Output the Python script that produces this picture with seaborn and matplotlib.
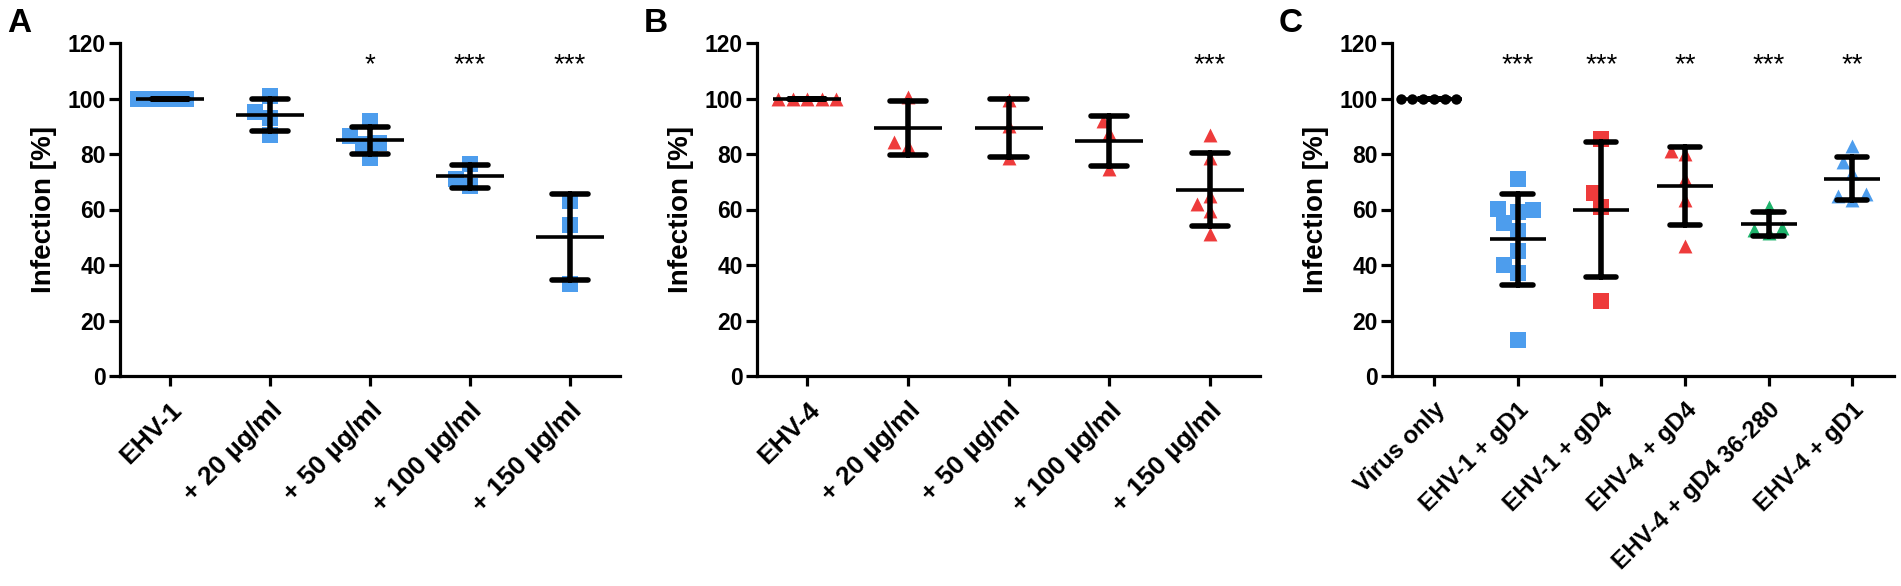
import matplotlib
matplotlib.use("Agg")
import matplotlib.pyplot as plt
import seaborn as sns
import pandas as pd

# ---- data ----
a_groups = ["EHV-1", "+ 20 µg/ml", "+ 50 µg/ml", "+ 100 µg/ml", "+ 150 µg/ml"]
a_values = [
    [100, 100, 100, 100],
    [101, 95, 93, 87],
    [92, 83.5, 86.5, 84, 78.5],
    [76.5, 68.5, 71],
    [63, 54.5, 33],
]
a_stars = ["", "", "*", "***", "***"]

b_groups = ["EHV-4", "+ 20 µg/ml", "+ 50 µg/ml", "+ 100 µg/ml", "+ 150 µg/ml"]
b_values = [
    [100, 100, 100, 100, 100],
    [100.5, 83, 84.5],
    [99.5, 90, 78.5],
    [92, 87.5, 74.5],
    [87, 78.5, 62, 65, 59.5, 51],
]
b_stars = ["", "", "", "", "***"]

c_groups = ["Virus only", "EHV-1 + gD1", "EHV-1 + gD4", "EHV-4 + gD4",
            "EHV-4 + gD4 36-280", "EHV-4 + gD1"]
c_values = [
    [100, 100, 100, 100, 100, 100],
    [71, 59, 60.2, 59.8, 55, 52.2, 45.2, 40.1, 37.1, 13],
    [85.5, 66, 61, 27],
    [81, 80, 71, 63.5, 47],
    [61, 52.5, 51.5, 53.5],
    [83, 77, 73, 65.5, 65, 63.5],
]
c_stars = ["", "***", "***", "**", "***", "**"]

BLUE = "#4d9ded"
RED = "#ee3b3b"
GREEN = "#1fb36c"
a_colors = [BLUE] * 5
a_markers = ["s"] * 5
b_colors = [RED] * 5
b_markers = ["^"] * 5
c_colors = ["black", BLUE, RED, RED, GREEN, BLUE]
c_markers = ["o", "s", "s", "^", "^", "^"]

sns.set_style("ticks")
plt.rcParams["font.family"] = ["Liberation Sans", "DejaVu Sans"]
plt.rcParams["font.weight"] = "bold"
for key in ["text.color", "axes.labelcolor", "xtick.color", "ytick.color",
            "axes.edgecolor"]:
    plt.rcParams[key] = "black"


def long_table(groups, values):
    rows = []
    for g, vals in zip(groups, values):
        for v in vals:
            rows.append({"group": g, "value": v})
    return pd.DataFrame(rows)


def panel(ax, groups, values, colors, markers, stars, letter, mean_len,
          xfs):
    df = long_table(groups, values)
    for g, col, mk in zip(groups, colors, markers):
        sub = df[df["group"] == g]
        size = {"s": 11, "^": 10, "o": 7.5}[mk]
        sns.swarmplot(data=sub, x="group", y="value", order=groups, ax=ax,
                      color=col, marker=mk, size=size, linewidth=0, zorder=2)
    sns.pointplot(data=df, x="group", y="value", order=groups, ax=ax,
                  errorbar="sd", capsize=0.36, color="black",
                  linestyle="none", marker="_", markersize=mean_len,
                  markeredgewidth=2.6,
                  err_kws={"linewidth": 4, "solid_capstyle": "round"})
    for i, s in enumerate(stars):
        if s:
            ax.text(i, 112, s, ha="center", va="center", fontsize=20,
                    fontweight="normal")
    ax.set_ylim(0, 120)
    ax.set_xlim(-0.5, len(groups) - 0.5)
    ax.set_yticks(range(0, 121, 20))
    ax.set_xlabel("")
    ax.set_ylabel("Infection [%]", fontsize=20, fontweight="bold", labelpad=8)
    sns.despine(ax=ax)
    for sp in ["left", "bottom"]:
        ax.spines[sp].set_linewidth(2.3)
    ax.tick_params(axis="y", length=8, width=2.3, pad=2, labelsize=16.5)
    ax.tick_params(axis="x", length=7, width=2.3, pad=9, labelsize=xfs)
    plt.setp(ax.get_xticklabels(), rotation=45, ha="right",
             rotation_mode="anchor", fontweight="bold")
    plt.setp(ax.get_yticklabels(), fontweight="bold")
    ax.text(-0.225, 1.06, letter, transform=ax.transAxes, fontsize=24,
            fontweight="bold", ha="left", va="center")


W, H = 1901, 586
fig = plt.figure(figsize=(W / 100, H / 100), dpi=100)
bottom = 1 - 376 / H
height = (376 - 43) / H
ax_a = fig.add_axes([120 / W, bottom, 500 / W, height])
ax_b = fig.add_axes([757 / W, bottom, 503 / W, height])
ax_c = fig.add_axes([1392 / W, bottom, 502 / W, height])

panel(ax_a, a_groups, a_values, a_colors, a_markers, a_stars, "A", 49, 19)
panel(ax_b, b_groups, b_values, b_colors, b_markers, b_stars, "B", 49, 19)
panel(ax_c, c_groups, c_values, c_colors, c_markers, c_stars, "C", 41, 17.5)

fig.savefig("out.png", dpi=100)
